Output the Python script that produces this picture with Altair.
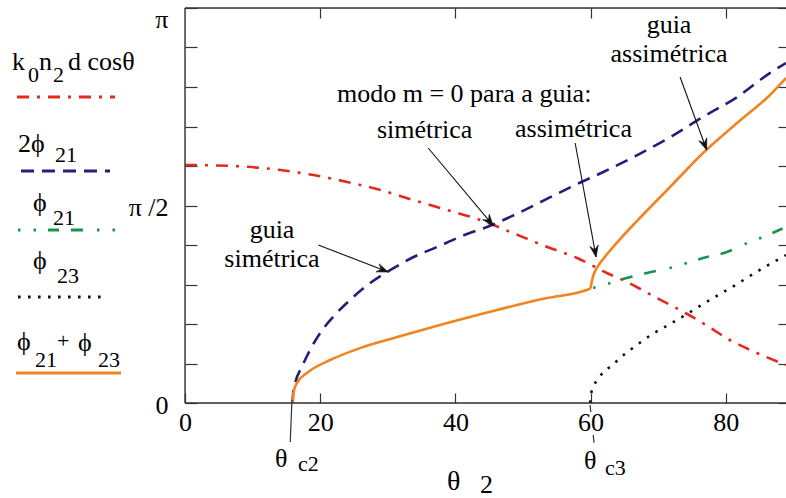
import math
import altair as alt
import pandas as pd

PI = math.pi

# ---- curves: theta_2 in degrees, phase in radians ----
cos_theta = [0, 7, 14.1, 19.0, 24.0, 28.9, 33.8, 38.8, 43.7, 48.5, 53.6, 58.0,
             62.4, 65.4, 69.8, 73.2, 76.6, 80.6, 84.6, 88.9]
cos_val = [1.893, 1.885, 1.853, 1.813, 1.758, 1.694, 1.614, 1.535, 1.455, 1.352,
           1.241, 1.153, 1.034, 0.962, 0.835, 0.740, 0.636, 0.501, 0.398, 0.302]

two_phi21_theta = [15.9, 16.0, 16.3, 17.3, 18.5, 20.0, 21.9, 24.4, 27.4, 30.4,
                   33.8, 37.3, 40.7, 45.4, 48.5, 53.6, 58.4, 61.8, 66.9, 71.8,
                   76.6, 81.7, 86.5, 88.9]
two_phi21_val = [0.0, 0.08, 0.159, 0.289, 0.422, 0.557, 0.684, 0.819, 0.954, 1.058,
                 1.161, 1.241, 1.322, 1.416, 1.490, 1.625, 1.752, 1.835, 1.972, 2.115,
                 2.275, 2.434, 2.624, 2.704]

phi21_theta = [60.37, 62.88, 64.80, 68.35, 71.75, 76.63, 80.18, 83.13, 85.50, 88.9]
phi21_val = [0.915, 0.954, 0.986, 1.034, 1.074, 1.153, 1.201, 1.272, 1.320, 1.400]

phi23_theta = [59.92, 60.1, 60.5, 61.2, 62.0, 63.2, 64.4, 66.8, 69.2, 71.75,
               74.27, 76.63, 79.15, 81.66, 84.03, 86.53, 88.9]
phi23_val = [0.0, 0.08, 0.14, 0.20, 0.25, 0.30, 0.36, 0.46, 0.55, 0.628,
             0.708, 0.787, 0.867, 0.946, 1.026, 1.105, 1.177]

sum_theta = [15.97, 16.06, 16.56, 18.04, 21.48, 26.36, 31.39, 38.78, 46.17, 53.56,
             58.44, 59.99, 60.29, 60.66, 61.40, 62.44, 64.36, 66.87, 71.75, 76.63,
             81.66, 86.53, 88.9]
sum_val = [0.0, 0.087, 0.159, 0.239, 0.342, 0.445, 0.525, 0.636, 0.740, 0.835,
           0.883, 0.911, 0.994, 1.050, 1.113, 1.185, 1.304, 1.448, 1.718, 1.988,
           2.227, 2.450, 2.585]

# critical angles marked under the axis
theta_c2 = [15.82, 15.57]
theta_c3 = [59.92, 60.51]
# phi23 switches on here: the sum curve has a corner at this angle
SUM_CORNER = 59.99

# annotation arrows (tail -> head), in data units
arrow_from_theta = [35.97, 19.71, 57.71, 73.23]
arrow_from_val = [2.028, 1.257, 2.068, 2.593]
arrow_to_theta = [45.6, 30.06, 60.81, 77.17]
arrow_to_val = [1.41, 1.042, 1.161, 2.012]

x_ticks = [0, 20, 40, 60, 80]
y_ticks = [i * PI / 10 for i in range(11)]

# ---- layout ----
XMAX = 88.9
W, H = 601, 395
LEFT, TOP = 185, 8
FONT = "Liberation Serif"
AXIS_COLOR = "#333333"

RED, BLUE, GREEN, BLACK, ORANGE = "#e4291f", "#2a1a7c", "#17934a", "#111111", "#f08420"
DASH_RED = [12, 8, 3, 8]
DASH_BLUE = [13, 8]
DASH_GREEN = [2.5, 13, 2.5, 12, 11, 12, 12, 14]
DASH_BLACK = [2.6, 7.4]

xs = alt.Scale(domain=[0, XMAX], nice=False, zero=False)
ys = alt.Scale(domain=[0, PI], nice=False, zero=False)


def curve(theta, val, color, dash=None, x_axis=None, y_axis=None, corner=None):
    rows = []
    for t, v in zip(theta, val):
        if corner is None:
            rows.append((t, v, 0))
        else:
            if t <= corner:
                rows.append((t, v, 0))
            if t >= corner:
                rows.append((t, v, 1))
    df = pd.DataFrame(rows, columns=["theta", "phase", "branch"])
    kw = dict(color=color, strokeWidth=2.6, interpolate="monotone", strokeCap="butt",
              strokeJoin="miter")
    if dash:
        kw["strokeDash"] = dash
    return alt.Chart(df).mark_line(**kw).encode(
        x=alt.X("theta:Q", scale=xs, axis=x_axis),
        y=alt.Y("phase:Q", scale=ys, axis=y_axis),
        detail="branch:N",
    )


axis_common = dict(grid=False, title=None, domain=False, tickColor=AXIS_COLOR,
                   tickWidth=1.2, labelFont=FONT, labelFontSize=26,
                   labelColor="black", labelOverlap=False, labelFlush=False)

bottom_axis = alt.Axis(orient="bottom", values=x_ticks, offset=-10, tickSize=10,
                       labelPadding=6, format="d", **axis_common)
left_axis = alt.Axis(
    orient="left", values=y_ticks, offset=-12, tickSize=12, labelPadding=17,
    labelExpr="abs(datum.value) < 0.01 ? '0' : abs(datum.value - PI / 2) < 0.01 ? 'π /2' : abs(datum.value - PI) < 0.01 ? 'π' : ''",
    labelOffset={"condition": {"test": "datum.value > 3", "value": 11}, "value": 2},
    **axis_common)
top_axis = alt.Axis(orient="top", values=x_ticks[1:], offset=-10, tickSize=10,
                    labels=False, **axis_common)
right_axis = alt.Axis(orient="right", values=y_ticks, offset=-8, tickSize=8,
                      labels=False, **axis_common)

layers = [
    curve(cos_theta, cos_val, RED, DASH_RED, bottom_axis, left_axis),
    curve(two_phi21_theta, two_phi21_val, BLUE, DASH_BLUE, top_axis, right_axis),
    curve(phi21_theta, phi21_val, GREEN, DASH_GREEN),
    curve(phi23_theta, phi23_val, BLACK, DASH_BLACK),
    curve(sum_theta, sum_val, ORANGE, corner=SUM_CORNER),
]

# frame: left, top and bottom edges
for enc in (
    dict(x=alt.value(0), y=alt.value(0), y2=alt.value(H)),
    dict(x=alt.value(0), x2=alt.value(W), y=alt.value(0)),
    dict(x=alt.value(0), x2=alt.value(W), y=alt.value(H)),
):
    layers.append(alt.Chart().mark_rule(color=AXIS_COLOR, strokeWidth=1.4).encode(**enc))

# critical-angle markers below the axis
layers.append(
    alt.Chart(pd.DataFrame({"a": [theta_c2[0]], "b": [theta_c2[1]]}))
    .mark_rule(color=AXIS_COLOR, strokeWidth=1.2)
    .encode(x=alt.X("a:Q", scale=xs, axis=None), x2="b:Q",
            y=alt.value(400 - TOP), y2=alt.value(442 - TOP))
)
layers.append(
    alt.Chart(pd.DataFrame({"a": [theta_c3[0]], "b": [theta_c3[1]]}))
    .mark_rule(color=AXIS_COLOR, strokeWidth=1.2, strokeDash=[7, 23, 8, 60])
    .encode(x=alt.X("a:Q", scale=xs, axis=None), x2="b:Q",
            y=alt.value(405 - TOP), y2=alt.value(443 - TOP))
)

# arrows
kx, ky = W / XMAX, H / PI
angles = []
for x1, y1, x2, y2 in zip(arrow_from_theta, arrow_from_val, arrow_to_theta, arrow_to_val):
    dx = (x2 - x1) * kx
    dy = -(y2 - y1) * ky
    angles.append(math.degrees(math.atan2(dx, -dy)) % 360)
arrows = pd.DataFrame({"x1": arrow_from_theta, "y1": arrow_from_val,
                       "x2": arrow_to_theta, "y2": arrow_to_val, "ang": angles})
layers.append(
    alt.Chart(arrows).mark_rule(color="#111111", strokeWidth=1.1).encode(
        x=alt.X("x1:Q", scale=xs, axis=None), y=alt.Y("y1:Q", scale=ys, axis=None),
        x2="x2:Q", y2="y2:Q")
)
layers.append(
    alt.Chart(arrows).mark_point(
        shape="M0,0L0.75,2L0,1.3L-0.75,2Z", filled=True, color="#111111",
        size=130, opacity=1, strokeWidth=0.6, stroke="#111111",
    ).encode(
        x=alt.X("x2:Q", scale=xs, axis=None), y=alt.Y("y2:Q", scale=ys, axis=None),
        angle=alt.Angle("ang:Q", scale=None))
)

# legend line samples
legend_lines = [
    (17, 115, 97, RED, DASH_RED),
    (21, 110, 171, BLUE, DASH_BLUE),
    (18, 117, 230, GREEN, DASH_GREEN),
    (18, 105, 297, BLACK, DASH_BLACK),
    (16, 121, 373, ORANGE, None),
]
for xa, xb, yy, col, dash in legend_lines:
    kw = dict(color=col, strokeWidth=2.8, strokeCap="butt")
    if dash:
        kw["strokeDash"] = dash
    layers.append(alt.Chart().mark_rule(**kw).encode(
        x=alt.value(xa - LEFT), x2=alt.value(xb - LEFT), y=alt.value(yy - TOP)))


def label(s, ax, ay, size=26, align="left"):
    return alt.Chart().mark_text(
        font=FONT, fontSize=size, color="black", align=align, baseline="alphabetic"
    ).encode(x=alt.value(ax - LEFT), y=alt.value(ay - TOP), text=alt.value(s))


texts = [
    # legend
    ("k", 12, 70, 26), ("0", 28, 82, 22), ("n", 39, 70, 26), ("2", 53, 82, 22),
    ("d cosθ", 68, 70, 26),
    ("2ϕ", 18, 152, 26), ("21", 55, 162, 22),
    ("ϕ", 33, 211, 26), ("21", 53, 225, 22),
    ("ϕ", 33, 269, 26), ("23", 57, 283, 22),
    ("ϕ", 17, 350, 26), ("21", 35, 367, 22), ("+", 57, 348, 22),
    ("ϕ", 78, 351, 26), ("23", 98, 367, 22),
    # axis title and critical angles
    ("θ", 447, 490, 28), ("2", 480, 493, 26),
    ("θ", 275, 467, 26), ("c2", 298, 471, 22),
    ("θ", 584, 469, 26), ("c3", 605, 475, 22),
    # annotations
    ("modo m = 0 para a guia:", 337, 102, 26),
    ("simétrica", 377, 138, 26),
    ("assimétrica", 515, 137, 26),
]
for s, ax, ay, sz in texts:
    layers.append(label(s, ax, ay, sz))

for s, ax, ay in [("guia", 669, 33), ("assimétrica", 669, 62),
                  ("guia", 272, 238), ("simétrica", 272, 267)]:
    layers.append(label(s, ax, ay, 26, "center"))

chart = (
    alt.layer(*layers)
    .resolve_axis(x="independent", y="independent")
    .properties(width=W, height=H,
                padding={"left": LEFT, "top": TOP, "right": 0, "bottom": 498 - TOP - H},
                autosize=alt.AutoSizeParams(type="none"))
    .configure_view(stroke=None)
    .configure(background="white")
)

chart.save("out.html", embed_options={"renderer": "svg", "actions": False})
